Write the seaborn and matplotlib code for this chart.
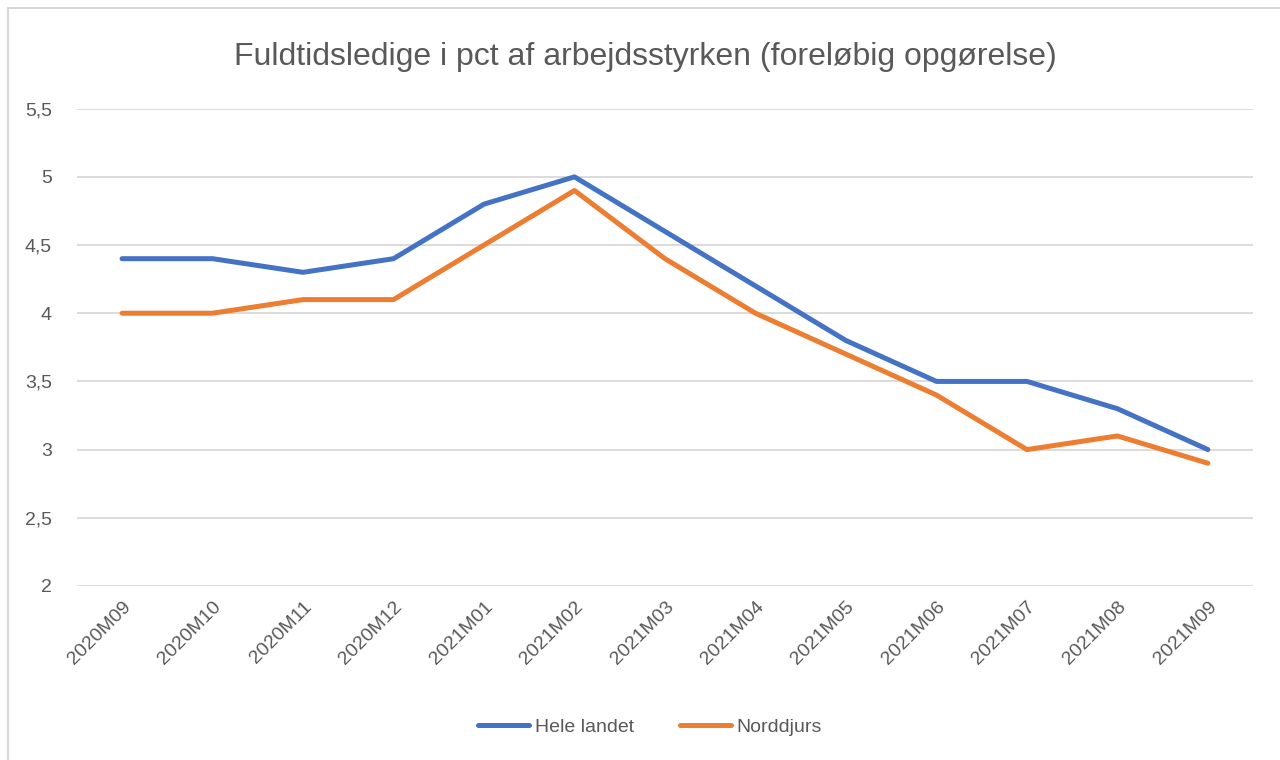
import matplotlib
matplotlib.use("Agg")
import matplotlib.pyplot as plt
import seaborn as sns
import pandas as pd
from matplotlib.patches import Rectangle

months = ["2020M09", "2020M10", "2020M11", "2020M12", "2021M01", "2021M02", "2021M03",
          "2021M04", "2021M05", "2021M06", "2021M07", "2021M08", "2021M09"]
hele_landet = [4.4, 4.4, 4.3, 4.4, 4.8, 5.0, 4.6, 4.2, 3.8, 3.5, 3.5, 3.3, 3.0]
norddjurs = [4.0, 4.0, 4.1, 4.1, 4.5, 4.9, 4.4, 4.0, 3.7, 3.4, 3.0, 3.1, 2.9]
y_ticks = [2, 2.5, 3, 3.5, 4, 4.5, 5, 5.5]
y_labels = ["2", "2,5", "3", "3,5", "4", "4,5", "5", "5,5"]

df = pd.DataFrame({
    "month": months * 2,
    "value": hele_landet + norddjurs,
    "series": ["Hele landet"] * len(months) + ["Norddjurs"] * len(months),
})

sns.set_theme(style="white")
plt.rcParams["font.family"] = ["Liberation Sans", "DejaVu Sans"]

fig = plt.figure(figsize=(12.8, 7.6), dpi=100)
ax = fig.add_axes([0.060, 0.229, 0.919, 0.628])

sns.lineplot(data=df, x="month", y="value", hue="series",
             palette={"Hele landet": "#4472C4", "Norddjurs": "#ED7D31"},
             linewidth=3.6, ax=ax, sort=False,
             solid_capstyle="round", solid_joinstyle="round")

ax.set_xlim(-0.5, len(months) - 0.5)
ax.set_ylim(2, 5.5)
ax.set_yticks(y_ticks)
ax.set_yticklabels(y_labels)
ax.set_xticks(range(len(months)))
ax.set_xticklabels(months, rotation=45, ha="right", rotation_mode="anchor")
ax.tick_params(axis="both", colors="#595959", labelsize=14, length=0)
ax.tick_params(axis="x", pad=9)
ax.tick_params(axis="y", pad=18)
ax.grid(axis="y", color="#D9D9D9", linewidth=1.3)
ax.set_axisbelow(True)
for s in ax.spines.values():
    s.set_visible(False)
ax.set_xlabel("")
ax.set_ylabel("")

fig.text(0.504, 0.925, "Fuldtidsledige i pct af arbejdsstyrken (foreløbig opgørelse)",
         ha="center", va="center", fontsize=23, color="#595959")

handles, labels = ax.get_legend_handles_labels()
ax.legend(handles, labels, loc="center", bbox_to_anchor=(0.508, 0.043),
          bbox_transform=fig.transFigure, ncol=2, frameon=False,
          fontsize=14, labelcolor="#595959", handlelength=2.6,
          handletextpad=0.3, columnspacing=2.4)

fig.patches.append(Rectangle((0.006, -0.01), 1.2, 0.999, transform=fig.transFigure,
                             fill=False, edgecolor="#D0D0D0", linewidth=1.2))

fig.savefig("out.png", dpi=100)
